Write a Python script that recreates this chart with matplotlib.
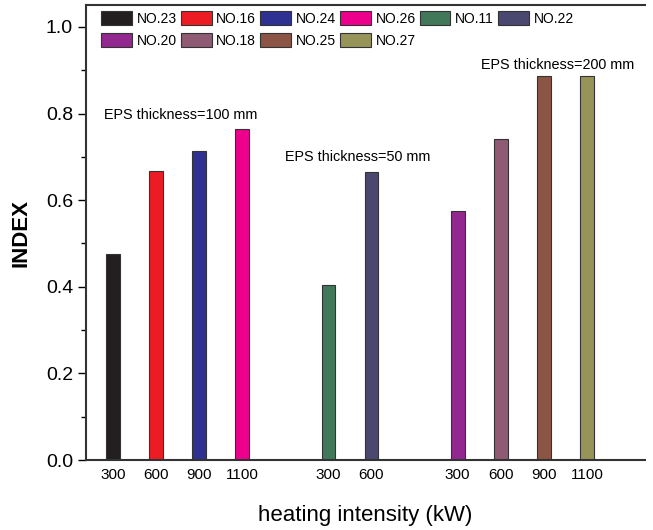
import matplotlib.pyplot as plt
from matplotlib.ticker import MultipleLocator, FormatStrFormatter

plt.rcParams['font.family'] = ['Liberation Sans', 'DejaVu Sans']

# data
names = ['NO.23', 'NO.16', 'NO.24', 'NO.26', 'NO.11', 'NO.22',
         'NO.20', 'NO.18', 'NO.25', 'NO.27']
positions = [0, 1, 2, 3, 5, 6, 8, 9, 10, 11]
tick_labels = ['300', '600', '900', '1100', '300', '600',
               '300', '600', '900', '1100']
index_values = [0.476, 0.667, 0.714, 0.764, 0.405, 0.665,
                0.574, 0.741, 0.886, 0.886]
colors = ['#231f20', '#ed1c24', '#2e3192', '#ec008c', '#42785a', '#4a4870',
          '#92278f', '#8e5a74', '#8b5444', '#97945a']

fig = plt.figure(figsize=(6.53, 5.30), dpi=100)
ax = fig.add_axes([0.132, 0.132, 0.856, 0.858])

handles = []
for p, v, c, n in zip(positions, index_values, colors, names):
    b = ax.bar(p, v, width=0.32, color=c, edgecolor='#333333', linewidth=0.8, label=n)
    handles.append(b)

ax.set_xlim(-0.62, 12.35)
ax.set_ylim(0, 1.05)
ax.set_xticks(positions)
ax.set_xticklabels(tick_labels, fontsize=11)
ax.yaxis.set_major_locator(MultipleLocator(0.2))
ax.yaxis.set_minor_locator(MultipleLocator(0.1))
ax.yaxis.set_major_formatter(FormatStrFormatter('%.1f'))
ax.tick_params(axis='y', which='major', direction='out', length=6, labelsize=14, width=1)
ax.tick_params(axis='y', which='minor', direction='out', length=3.5, width=1)
ax.tick_params(axis='x', which='major', direction='out', length=0, pad=6)

ax.spines['right'].set_visible(False)
for s in ['left', 'bottom', 'top']:
    ax.spines[s].set_linewidth(1.5)
    ax.spines[s].set_color('#333333')

ax.set_xlabel('heating intensity (kW)', fontsize=16, labelpad=16)
ax.set_ylabel('INDEX', fontsize=16, fontweight='bold', labelpad=10)

ax.text(1.58, 0.797, 'EPS thickness=100 mm', fontsize=10.4, ha='center', va='center')
ax.text(5.67, 0.70, 'EPS thickness=50 mm', fontsize=10.4, ha='center', va='center')
ax.text(10.32, 0.912, 'EPS thickness=200 mm', fontsize=10.4, ha='center', va='center')

# legend fills by column, reorder so it reads row by row
order = [0, 6, 1, 7, 2, 8, 3, 9, 4, 5]
ax.legend([handles[i] for i in order], [names[i] for i in order],
          loc='upper left', bbox_to_anchor=(0.012, 1.005), ncol=6, fontsize=10,
          frameon=False, handlelength=2.2, handleheight=1.1, handletextpad=0.35,
          columnspacing=0.3, labelspacing=0.55, borderaxespad=0.2)

fig.savefig('out.png', dpi=100)
